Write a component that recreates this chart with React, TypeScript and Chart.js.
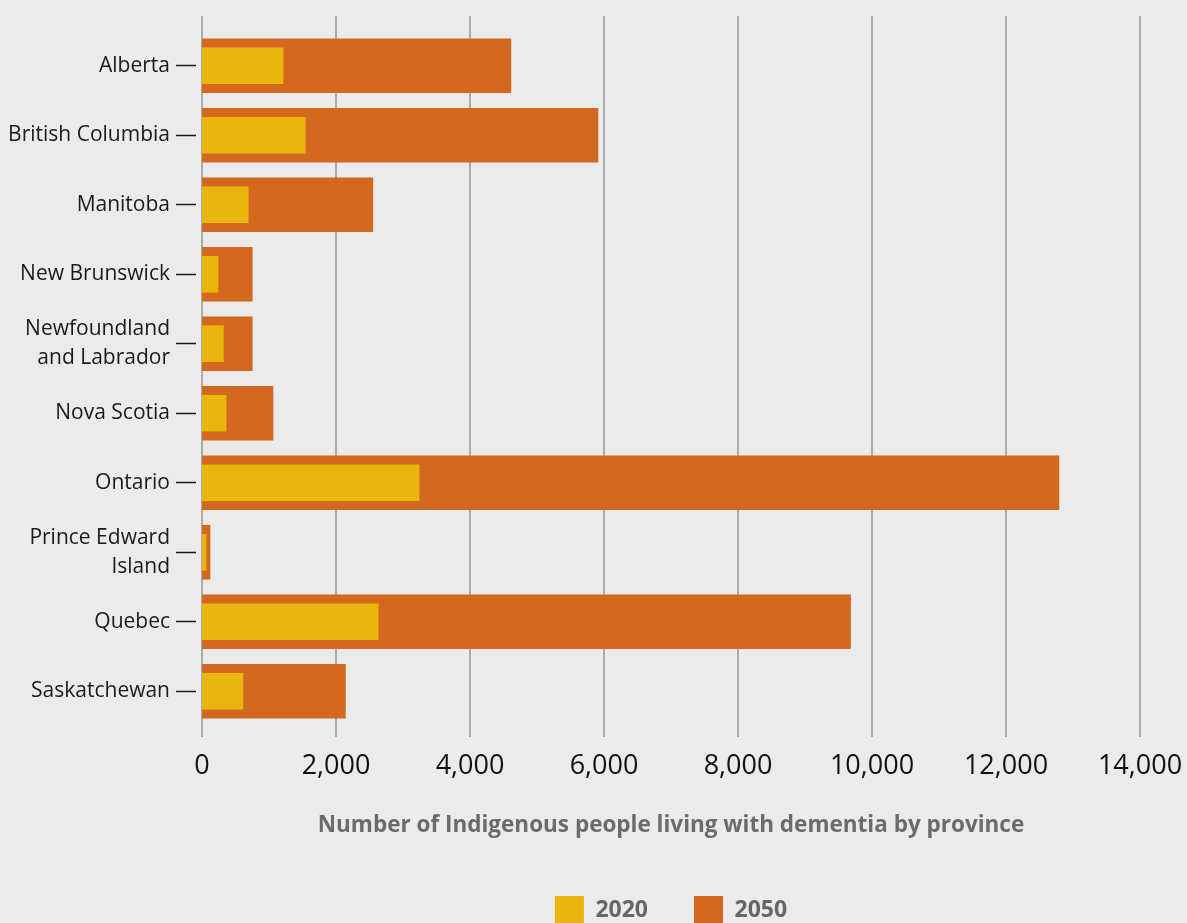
import React, { useEffect, useRef } from "react";
import { Chart, registerables } from "chart.js";

Chart.register(...registerables);

const provinces: (string | string[])[] = [
  "Alberta",
  "British Columbia",
  "Manitoba",
  "New Brunswick",
  ["Newfoundland", "and Labrador"],
  "Nova Scotia",
  "Ontario",
  ["Prince Edward", "Island"],
  "Quebec",
  "Saskatchewan",
];

const values2020 = [1210, 1540, 690, 240, 320, 360, 3240, 60, 2630, 610];
const values2050 = [4610, 5910, 2550, 750, 750, 1060, 12790, 120, 9680, 2140];

const xTickStep = 2000;
const xMax = 14000;

const seriesLabels = ["2020", "2050"];
const AXIS_TITLE = "Number of Indigenous people living with dementia by province";

const FONT = "'Open Sans', 'Noto Sans', sans-serif";

const gridPlugin = {
  id: "extendedGrid",
  beforeDatasetsDraw(chart: any) {
    const x = chart.scales.x;
    const ctx = chart.ctx;
    ctx.save();
    ctx.strokeStyle = "#9b9b9b";
    ctx.lineWidth = 1.6;
    for (const t of x.ticks) {
      const px = Math.round(x.getPixelForValue(t.value));
      ctx.beginPath();
      ctx.moveTo(px, chart.chartArea.top - 15);
      ctx.lineTo(px, chart.chartArea.bottom + 11);
      ctx.stroke();
    }
    ctx.restore();
  },
};

export default function App() {
  const ref = useRef<HTMLCanvasElement | null>(null);

  useEffect(() => {
    document.body.style.margin = "0";
    const canvas = ref.current;
    if (!canvas) return;
    const chart = new Chart(canvas, {
      type: "bar",
      data: {
        labels: provinces,
        datasets: [
          {
            label: seriesLabels[0],
            data: values2020,
            backgroundColor: "#eab50c",
            borderWidth: 0,
            barThickness: 36,
            grouped: false,
          },
          {
            label: seriesLabels[1],
            data: values2050,
            backgroundColor: "#d4681e",
            borderWidth: 0,
            barThickness: 54,
            grouped: false,
          },
        ],
      },
      plugins: [gridPlugin],
      options: {
        indexAxis: "y",
        responsive: false,
        animation: false,
        maintainAspectRatio: false,
        layout: { padding: { top: 31, right: 47, left: 0, bottom: 0 } },
        scales: {
          x: {
            min: 0,
            max: xMax,
            ticks: {
              stepSize: xTickStep,
              color: "#111",
              font: { family: FONT, size: 27 },
              padding: 0,
              callback: (v: any) => Number(v).toLocaleString("en-US"),
            },
            grid: { display: false, drawTicks: true, tickLength: 24 },
            border: { display: false },
            title: {
              display: true,
              text: AXIS_TITLE,
              color: "#6b6b6d",
              font: { family: FONT, size: 22.5, weight: "bold" },
              padding: { top: 0, bottom: 11 },
            },
            afterFit: (s: any) => {
              s.height = 124;
            },
          },
          y: {
            ticks: {
              color: "#1a1a1a",
              font: { family: FONT, size: 21, lineHeight: 1.38 },
              padding: 6,
            },
            grid: {
              display: true,
              drawOnChartArea: false,
              drawTicks: true,
              offset: false,
              color: "transparent",
              tickColor: "#1a1a1a",
              tickLength: 26,
              tickWidth: 1.5,
              tickBorderDash: [20, 6],
              tickBorderDashOffset: 0,
            },
            border: { display: false },
            afterFit: (s: any) => {
              s.width = 202;
            },
          },
        },
        plugins: {
          legend: {
            position: "bottom",
            fullSize: false,
            labels: {
              boxWidth: 29,
              boxHeight: 29,
              padding: 46,
              color: "#666668",
              font: { family: FONT, size: 23, weight: "bold" },
            },
          },
          tooltip: { enabled: false },
        },
      },
    });
    return () => chart.destroy();
  }, []);

  return (
    <div
      style={{
        width: 1187,
        height: 923,
        overflow: "hidden",
        background: "#ebebeb",
        position: "relative",
      }}
    >
      <canvas ref={ref} width={1187} height={935} style={{ display: "block" }} />
    </div>
  );
}
